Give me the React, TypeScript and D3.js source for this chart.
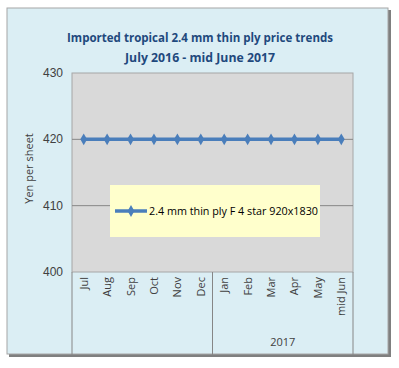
import React, { useRef, useEffect } from 'react';
import * as d3 from 'd3';

const months = ['Jul', 'Aug', 'Sep', 'Oct', 'Nov', 'Dec', 'Jan', 'Feb', 'Mar', 'Apr', 'May', 'mid Jun'];
const prices = [420, 420, 420, 420, 420, 420, 420, 420, 420, 420, 420, 420];
const yTicks = [400, 410, 420, 430];
const seriesName = '2.4 mm thin ply F 4 star 920x1830';
const titleLines = ['Imported tropical 2.4 mm thin ply price trends', 'July 2016 - mid June 2017'];

const W = 399;
const H = 368;

const App = () => {
  const svgRef = useRef<SVGSVGElement>(null);

  useEffect(() => {
    document.body.style.margin = '0';
    const svg = d3.select(svgRef.current);
    svg.selectAll('*').remove();

    // frame with shadow
    svg.append('rect').attr('x', 9).attr('y', 10).attr('width', 382).attr('height', 347).attr('fill', '#7f7f7f');
    svg.append('rect').attr('x', 7).attr('y', 8).attr('width', 381).attr('height', 346)
      .attr('fill', '#dbeef4').attr('stroke', '#a6a6a6').attr('stroke-width', 1);

    const left = 72, right = 353, top = 73, bottom = 272;

    const x = d3.scaleBand().domain(months).range([left, right]);
    const y = d3.scaleLinear().domain([400, 430]).range([bottom, top]);

    svg.append('rect').attr('x', left).attr('y', top).attr('width', right - left).attr('height', bottom - top)
      .attr('fill', '#d9d9d9').attr('stroke', '#a6a6a6');

    // gridlines
    svg.append('g').selectAll('line').data(yTicks.filter(t => t > 400 && t < 430)).enter().append('line')
      .attr('x1', left).attr('x2', right)
      .attr('y1', d => y(d)).attr('y2', d => y(d))
      .attr('stroke', '#868686').attr('stroke-width', 1);

    // y axis labels
    svg.append('g').selectAll('text').data(yTicks).enter().append('text')
      .attr('x', 63).attr('y', d => y(d) + 4)
      .attr('text-anchor', 'end')
      .attr('font-family', 'Liberation Sans, Arial, sans-serif')
      .attr('font-size', 12).attr('fill', '#404040')
      .text(d => d);

    svg.append('text')
      .attr('transform', `translate(33,${(top + bottom) / 2 - 4}) rotate(-90)`)
      .attr('text-anchor', 'middle')
      .attr('font-family', 'Open Sans, sans-serif')
      .attr('font-size', 11).attr('fill', '#404040')
      .text('Yen per sheet');

    // category axis
    const axisG = svg.append('g');
    [left, x('Jan') as number, right].forEach(px => {
      axisG.append('line').attr('x1', px).attr('x2', px).attr('y1', bottom).attr('y2', 355)
        .attr('stroke', '#868686');
    });
    axisG.selectAll('text.m').data(months).enter().append('text')
      .attr('class', 'm')
      .attr('transform', d => `translate(${(x(d) as number) + x.bandwidth() / 2 + 4},277) rotate(-90)`)
      .attr('text-anchor', 'end')
      .attr('font-family', 'Open Sans, sans-serif')
      .attr('font-size', 11).attr('fill', '#404040')
      .text(d => d);
    axisG.append('text')
      .attr('x', ((x('Jan') as number) + right) / 2).attr('y', 346)
      .attr('text-anchor', 'middle')
      .attr('font-family', 'Open Sans, sans-serif')
      .attr('font-size', 11).attr('fill', '#404040')
      .text('2017');

    // line series
    const line = d3.line<number>()
      .x((d, i) => (x(months[i]) as number) + x.bandwidth() / 2)
      .y(d => y(d));
    svg.append('path').datum(prices)
      .attr('fill', 'none').attr('stroke', '#4a7ebb').attr('stroke-width', 3.5)
      .attr('d', line);
    const diamond = d3.symbol().type(d3.symbolDiamond).size(40);
    svg.append('g').selectAll('path').data(prices).enter().append('path')
      .attr('transform', (d, i) => `translate(${(x(months[i]) as number) + x.bandwidth() / 2},${y(d)})`)
      .attr('d', diamond).attr('fill', '#4a7ebb');

    // legend
    const lg = svg.append('g');
    lg.append('rect').attr('x', 110).attr('y', 185).attr('width', 210).attr('height', 52).attr('fill', '#ffffcc');
    lg.append('line').attr('x1', 115).attr('x2', 147).attr('y1', 211).attr('y2', 211)
      .attr('stroke', '#4a7ebb').attr('stroke-width', 3.5);
    lg.append('path').attr('transform', 'translate(131,211)').attr('d', diamond).attr('fill', '#4a7ebb');
    lg.append('text').attr('x', 149).attr('y', 215)
      .attr('font-family', 'Open Sans, sans-serif')
      .attr('font-size', 11).attr('fill', '#000')
      .attr('textLength', 169).attr('lengthAdjust', 'spacingAndGlyphs')
      .text(seriesName);

    // title
    const titleWidths = [266, 150];
    svg.append('g').selectAll('text').data(titleLines).enter().append('text')
      .attr('x', (d, i) => 200 - titleWidths[i] / 2).attr('y', (d, i) => 42 + i * 20)
      .attr('font-family', 'Open Sans, sans-serif')
      .attr('font-weight', 'bold')
      .attr('font-size', 13).attr('fill', '#1f497d')
      .attr('textLength', (d, i) => titleWidths[i]).attr('lengthAdjust', 'spacingAndGlyphs')
      .text(d => d);
  }, []);

  return <svg ref={svgRef} width={W} height={H} style={{ display: 'block' }}></svg>;
};

export default App;
